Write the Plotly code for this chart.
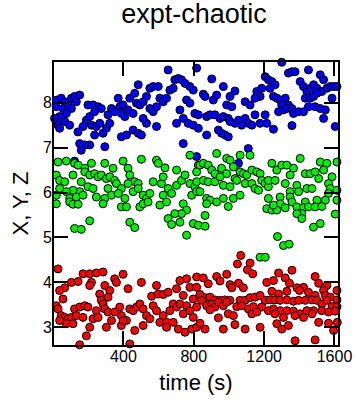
import plotly.graph_objects as go

# ---- data (time in s, value) ----
blue_t = [22, 46, 66, 18, 56, 84, 104, 122, 151, 132, 104, 75, 37, 8, 28, 66, 94, 37, 141, 170,
          189, 208, 198, 227, 256, 274, 236, 218, 246, 265, 236, 284, 303, 322, 312, 332, 350, 370, 379, 398,
          388, 408, 426, 436, 455, 464, 484, 474, 493, 512, 531, 550, 569, 598, 550, 569, 588, 607, 626, 645,
          654, 664, 683, 692, 712, 730, 750, 778, 797, 816, 759, 778, 806, 826, 721, 702, 740, 768, 797, 826,
          588, 531, 512, 455, 484, 502, 417, 388, 294, 208, 180, 151, 160, 740, 122, 816,
          1300, 902, 968, 1034, 854, 864, 911, 930, 987, 1016, 1092, 1120, 1006, 1158, 1186, 1206, 1224, 1244, 1262, 1234,
          1253, 1177, 1148, 1272, 1291, 1320, 1338, 1300, 1282, 1310, 1329, 1358, 1367, 1396, 1424, 1338, 1358, 1376, 1405, 1424,
          1452, 1443, 1462, 1481, 1500, 1519, 1538, 1528, 1557, 1576, 1595, 1614, 1586, 1434, 1462, 1481, 1500, 1452, 1490, 1519,
          1548, 1538, 1604, 873, 892, 920, 949, 968, 996, 1006, 1034, 1054, 1072, 1092, 1110, 1130, 1148, 1177, 1206, 1215,
          873, 940, 958, 978, 996, 1253, 1358, 1110, 1054]
blue_v = [8.06, 8.10, 8.02, 7.91, 7.87, 7.95, 8.10, 8.14, 8.17, 8.02, 7.87, 7.76, 7.69, 7.65, 7.50, 7.58, 7.50, 7.43, 7.35, 7.47,
          7.61, 7.69, 7.95, 7.95, 7.91, 7.87, 7.80, 7.50, 7.47, 7.54, 7.28, 7.32, 7.43, 7.54, 7.73, 7.87, 7.80, 8.10, 7.91, 7.95,
          7.76, 7.69, 7.84, 8.10, 7.76, 8.21, 8.40, 7.99, 7.95, 8.02, 8.14, 8.32, 8.36, 8.36, 7.87, 7.80, 7.91, 8.10, 8.02, 8.10,
          8.73, 8.28, 8.32, 8.51, 8.54, 8.51, 8.43, 8.36, 8.28, 8.77, 8.06, 7.99, 7.76, 7.73, 7.84, 7.54, 7.65, 7.54, 7.50, 7.43,
          7.47, 7.54, 7.65, 7.39, 7.32, 7.28, 7.28, 7.24, 7.02, 7.06, 7.06, 7.09, 6.94, 7.09, 6.70, 6.80,
          8.90, 8.53, 8.36, 8.26, 8.19, 8.14, 8.06, 8.17, 7.95, 7.91, 8.02, 7.95, 8.14, 8.25, 8.32, 8.58, 8.51, 8.47, 8.40, 8.32,
          8.14, 8.14, 8.10, 8.10, 8.06, 8.10, 7.95, 7.95, 7.80, 7.84, 7.87, 7.87, 7.76, 7.80, 7.80, 8.66, 8.69, 8.69, 8.47, 8.36,
          8.73, 8.25, 8.32, 8.40, 8.32, 8.62, 8.51, 8.25, 8.32, 8.36, 8.36, 8.36, 8.10, 8.10, 8.10, 8.14, 8.21, 7.91, 7.91, 7.87,
          7.84, 7.65, 7.47, 7.69, 7.73, 7.73, 7.65, 7.69, 7.65, 7.58, 7.54, 7.61, 7.50, 7.65, 7.54, 7.50, 7.73, 7.54, 7.73, 7.54,
          7.28, 7.39, 7.32, 7.28, 7.24, 7.41, 7.49, 6.98, 6.65]

green_t = [28, 75, 122, 142, 180, 218, 294, 341, 398, 426, 502, 588, 598, 636, 702, 778, 826, 816, 18, 37,
           66, 113, 160, 180, 208, 236, 256, 274, 303, 322, 350, 360, 388, 436, 464, 484, 426, 198, 151, 113,
           75, 37, 18, 94, 132, 170, 227, 246, 294, 312, 332, 370, 408, 455, 484, 512, 531, 550, 569, 616,
           626, 654, 674, 702, 730, 750, 778, 788, 806, 816, 626,
           18, 94, 113, 142, 284, 388, 417, 493, 512, 540, 607, 645, 740, 759, 730, 692, 654, 674, 721, 797,
           826, 759, 436, 464, 208, 122, 160,
           930, 1063, 1120, 987, 1006, 1025, 835, 854, 882, 902, 920, 958, 987, 1034, 1063, 1082, 1101, 1130, 1158, 1177,
           1186, 1206, 1224, 1244, 1272, 1300, 1329, 1367, 1348, 1405, 1434, 1462, 1490, 1519, 1557, 1538, 1510, 1586, 1566, 1576,
           1614, 1614, 816, 854, 882, 920, 949, 968, 1006, 1044, 1092, 1130, 1148, 1168, 1224, 1262, 1320, 1348, 1386, 1396,
           1443, 1472, 1566, 1614, 835, 873, 892, 930, 968, 1025, 1063, 1224, 1291, 1348, 1434, 1500, 1548,
           873, 1291, 1358, 996, 864, 864, 1215, 1244, 1272, 1253, 1320, 1386, 1424, 1414, 1386, 1414, 1452, 1490, 1528, 1604,
           1481, 1519, 1276, 1310, 1342, 1177, 1206]
green_v = [6.68, 6.70, 6.65, 6.61, 6.54, 6.65, 6.65, 6.54, 6.70, 6.54, 6.74, 6.72, 6.65, 6.55, 6.50, 6.83, 6.61, 6.46, 6.39, 6.27,
           6.24, 6.39, 6.24, 6.46, 6.39, 6.42, 6.35, 6.39, 6.31, 6.35, 6.27, 6.20, 6.09, 6.39, 6.24, 6.20, 6.20, 6.13, 6.02, 6.05,
           6.02, 6.09, 5.94, 5.87, 5.90, 5.94, 6.09, 5.90, 5.87, 6.09, 5.94, 5.98, 5.87, 6.02, 6.09, 5.94, 5.87, 5.98, 6.24, 6.20,
           6.35, 6.09, 5.98, 6.16, 6.27, 6.39, 6.20, 5.94, 6.13, 6.02, 5.94,
           5.75, 5.79, 5.74, 5.74, 5.75, 5.68, 5.68, 5.68, 5.75, 5.79, 5.72, 5.79, 5.75, 5.61, 5.53, 5.53, 5.42, 5.29, 5.34, 5.31,
           5.27, 5.05, 5.34, 5.22, 5.37, 5.20, 5.18,
           6.87, 6.83, 6.83, 6.76, 6.72, 6.57, 6.61, 6.65, 6.61, 6.50, 6.42, 6.54, 6.42, 6.31, 6.46, 6.42, 6.39, 6.50, 6.46, 6.42,
           6.27, 6.20, 6.13, 6.65, 6.50, 6.61, 6.61, 6.54, 6.39, 6.76, 6.42, 6.42, 6.46, 6.68, 6.65, 6.50, 6.31, 6.35, 6.20, 6.09,
           6.68, 6.05, 6.24, 6.27, 6.24, 6.24, 6.35, 6.16, 6.13, 6.27, 6.20, 6.20, 6.09, 6.05, 6.27, 6.27, 6.20, 6.02, 6.16, 6.02,
           6.09, 6.09, 5.98, 5.83, 6.02, 5.87, 5.83, 5.79, 5.87, 5.87, 5.94, 5.87, 5.90, 5.90, 5.79, 5.83, 5.83,
           5.75, 5.75, 5.79, 5.69, 5.49, 5.25, 5.64, 5.61, 5.61, 5.72, 5.66, 5.68, 5.66, 5.53, 5.53, 5.42, 5.68, 5.68, 5.69, 5.52,
           5.23, 5.31, 5.02, 4.82, 4.85, 4.56, 4.56]

red_t = [28, 170, 208, 246, 284, 350, 360, 398, 502, 588, 721, 759, 816, 104, 142, 66, 37, 218, 208, 294,
         265, 322, 312, 274, 426, 560, 598, 626, 654, 702, 778, 816, 740, 797, 56, 18, 28, 46, 66, 84,
         104, 122, 132, 151, 170, 180, 198, 227, 246, 256, 284, 294, 312, 332, 350, 379, 388, 417, 436, 455,
         474, 493, 512, 531, 550, 569, 588, 607, 626, 645, 664, 683, 702, 721, 740, 759, 778, 797, 816, 37,
         75, 113, 208, 189, 303, 388, 398, 464, 512, 645, 683, 712, 750, 788, 816, 151, 436, 588,
         1067, 1048, 1120, 1105, 1135, 930, 949, 987, 854, 882, 1006, 1054, 1016, 1082, 1215, 1253, 1282, 1320, 1358, 1344,
         1490, 1510, 1557, 1614, 1538, 1244, 1282, 1329, 1386, 1424, 1401, 1452, 1490, 1548, 1576, 1614, 835, 864, 892, 920,
         949, 977, 1006, 844, 873, 902, 920, 940, 968, 987, 1063, 1092, 1120, 1148, 1177, 1206, 1234, 1262, 1291, 1329,
         1367, 1396, 1434, 1472, 1500, 1528, 1557, 1586, 1614, 892, 1044, 1072, 1110, 1139, 1186, 1224, 1253, 1291, 1329, 1367,
         1405, 1443, 1481, 1528, 1566, 1604, 996, 1025, 1130, 1158, 1262, 1310, 1376, 1424, 1472, 940, 835, 864, 1034, 1092,
         968, 1177, 1272, 1300, 1338, 1510, 1566, 1616, 1595, 1376, 1490]
red_v = [4.30, 4.19, 4.19, 4.21, 4.23, 4.08, 4.00, 4.18, 4.00, 3.93, 4.04, 4.08, 4.12, 4.00, 4.02, 3.88, 3.82, 4.00, 3.93, 3.93,
         3.74, 3.82, 3.67, 3.60, 3.86, 3.69, 3.74, 3.73, 3.78, 3.86, 3.89, 3.89, 3.71, 3.63, 3.63, 3.48, 3.41, 3.26, 3.22, 3.19,
         3.22, 3.41, 3.26, 3.45, 3.22, 3.48, 3.45, 3.19, 3.37, 3.22, 3.52, 3.41, 3.34, 3.15, 3.34, 3.45, 3.26, 3.15, 3.41, 3.37,
         3.45, 3.52, 3.41, 3.26, 3.19, 3.48, 3.37, 3.11, 3.26, 3.11, 3.37, 3.52, 3.45, 3.52, 3.30, 3.48, 3.37, 3.22, 3.45, 3.15,
         3.08, 3.08, 3.00, 2.81, 3.00, 3.04, 3.15, 2.93, 3.04, 3.00, 3.11, 2.96, 2.89, 2.96, 3.00, 2.61, 2.63, 2.57,
         4.60, 4.41, 4.43, 4.28, 4.19, 4.13, 4.03, 4.18, 4.10, 3.97, 3.95, 3.98, 3.88, 3.88, 4.00, 4.04, 4.21, 4.10, 4.27, 3.98,
         4.13, 3.98, 3.93, 3.82, 3.82, 3.80, 3.74, 3.80, 3.88, 3.89, 3.82, 3.78, 3.71, 3.71, 3.67, 3.61, 3.73, 3.66, 3.67, 3.61,
         3.60, 3.61, 3.60, 3.60, 3.48, 3.51, 3.45, 3.56, 3.48, 3.56, 3.60, 3.60, 3.66, 3.67, 3.71, 3.60, 3.61, 3.61, 3.60, 3.61,
         3.58, 3.60, 3.60, 3.61, 3.60, 3.52, 3.60, 3.46, 3.46, 3.39, 3.46, 3.48, 3.41, 3.46, 3.45, 3.37, 3.41, 3.37, 3.37, 3.36,
         3.30, 3.37, 3.37, 3.37, 3.34, 3.36, 3.30, 3.26, 3.30, 3.34, 3.30, 3.22, 3.26, 3.22, 3.30, 3.21, 3.09, 2.96, 3.06, 2.96,
         2.96, 3.00, 3.08, 2.96, 3.04, 3.11, 3.09, 3.11, 2.93, 2.70, 2.72]

x_ticks = [400, 800, 1200, 1600]
y_ticks = [3, 4, 5, 6, 7, 8]

FONT = "Liberation Sans, Arial, Helvetica, sans-serif"


def series(t, v, color):
    return go.Scatter(
        x=t, y=v, mode="markers", cliponaxis=False, showlegend=False,
        marker=dict(size=8, color=color, line=dict(color="black", width=1)),
    )


fig = go.Figure()
fig.add_trace(series(blue_t, blue_v, "#0000ff"))
fig.add_trace(series(green_t, green_v, "#00ee00"))
fig.add_trace(series(red_t, red_v, "#ff0000"))

axis_common = dict(
    showline=True, linecolor="black", linewidth=2, mirror="ticks",
    ticks="inside", ticklen=14, tickwidth=2, tickcolor="black",
    showgrid=False, zeroline=False, automargin=False,
    tickfont=dict(family=FONT, size=16, color="black"),
)

fig.update_layout(
    width=357, height=401,
    margin=dict(l=54, r=19, t=62, b=56),
    paper_bgcolor="white", plot_bgcolor="white",
    font=dict(family=FONT, color="black"),
    title=dict(text="expt-chaotic", font=dict(family=FONT, size=27, color="black"),
               x=0.493, xanchor="center", y=0.99, yanchor="top", xref="paper"),
    xaxis=dict(range=[5, 1620], tickvals=x_ticks, ticklabelstandoff=-4,
               title=dict(text="time (s)", font=dict(family=FONT, size=22), standoff=10),
               **axis_common),
    yaxis=dict(range=[2.606, 8.906], tickvals=y_ticks, ticklabelstandoff=-3,
               title=dict(text="X, Y, Z", font=dict(family=FONT, size=22), standoff=8),
               **axis_common),
)

fig.write_html("out.html", config={"displayModeBar": False},
               post_script="document.body.style.margin='0px';")
